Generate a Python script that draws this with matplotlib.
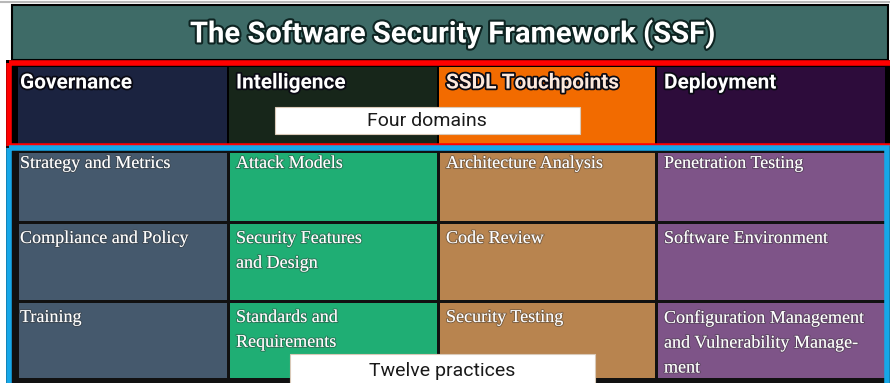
import matplotlib.pyplot as plt
import matplotlib.patches as mpatches
import matplotlib.patheffects as pe

title = "The Software Security Framework (SSF)"
domains = ["Governance", "Intelligence", "SSDL Touchpoints", "Deployment"]
domain_colors = ["#1b2340", "#17261a", "#f26b00", "#2d0c3b"]
practice_colors = ["#45596d", "#1fae74", "#b8844f", "#7e5488"]
practices = [
    ["Strategy and Metrics", "Compliance and Policy", "Training"],
    ["Attack Models", "Security Features\nand Design", "Standards and\nRequirements"],
    ["Architecture Analysis", "Code Review", "Security Testing"],
    ["Penetration Testing", "Software Environment",
     "Configuration Management\nand Vulnerability Manage-\nment"],
]
domain_label = "Four domains"
practice_label = "Twelve practices"

W, H = 890, 383
fig = plt.figure(figsize=(W / 100, H / 100), dpi=100)
ax = fig.add_axes([0, 0, 1, 1])
ax.set_xlim(0, W)
ax.set_ylim(H, 0)
ax.axis("off")

col_edges = [17, 228, 438, 656, 886]
text_x = [20, 236, 446, 664]
row_edges = [151, 222, 301, 379]
text_pad = [4, 8, 8]

def box(x0, y0, x1, y1, **kw):
    ax.add_patch(mpatches.Rectangle((x0, y0), x1 - x0, y1 - y0, **kw))

# top grey rule and title band
ax.plot([0, W], [2, 2], color="#b8b8b8", lw=1.5)
box(12, 5, 888, 60, facecolor="#3e6b67", edgecolor="black", lw=1.5)
glow = [pe.withStroke(linewidth=3, foreground="#0e2422")]
ax.text(453, 34, title, ha="center", va="center", color="white",
        fontsize=21, fontweight="bold", family="Roboto", path_effects=glow)

# domains row with red frame
box(6, 60, 892, 148, facecolor="black", edgecolor="none")
for i, name in enumerate(domains):
    box(col_edges[i] + 1, 67, col_edges[i + 1] - 1, 145,
        facecolor=domain_colors[i], edgecolor="none")
    tc = "#fde9dc" if i == 2 else "white"
    ax.text(text_x[i], 83, name, ha="left", va="center", color=tc,
            fontsize=15, fontweight="bold", family="Roboto",
            path_effects=[pe.withStroke(linewidth=2.5, foreground="#0a0a14")])
box(8.5, 62.5, 893, 146, facecolor="none", edgecolor="#ff0000", lw=4)

# practices grid with blue frame
box(6, 146, 892, 383, facecolor="#111111", edgecolor="none")
shadow = [pe.withStroke(linewidth=1.5, foreground="#33333366")]
for i, col in enumerate(practices):
    for j, name in enumerate(col):
        box(col_edges[i] + 1.5, row_edges[j] + 1.5,
            col_edges[i + 1] - 1.5, row_edges[j + 1] - 1.5,
            facecolor=practice_colors[i], edgecolor="none")
        ax.text(text_x[i], row_edges[j] + text_pad[j], name, ha="left", va="top",
                color="white", fontsize=13, family="Liberation Serif",
                linespacing=1.6, path_effects=shadow)
box(9, 148, 887, 385, facecolor="none", edgecolor="#16a7e8", lw=4)

# white callout labels
box(275, 107, 580, 134, facecolor="white", edgecolor="#d9c9b8", lw=0.8)
ax.text(427, 121.5, domain_label, ha="center", va="center", color="#1a1a1a",
        fontsize=14, family="Roboto")
box(290, 354, 595, 390, facecolor="white", edgecolor="#d9c9b8", lw=0.8)
ax.text(442, 371, practice_label, ha="center", va="center", color="#1a1a1a",
        fontsize=14, family="Roboto")

fig.savefig("out.png", dpi=100)
